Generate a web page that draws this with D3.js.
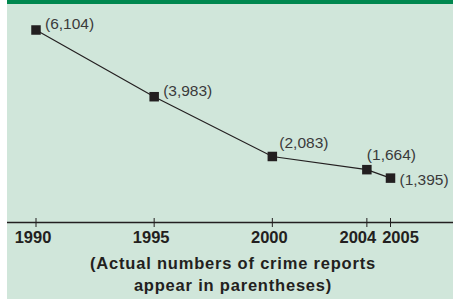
<!DOCTYPE html>
<html>
<head>
<meta charset="utf-8">
<script src="https://cdn.jsdelivr.net/npm/d3@7"></script>
<style>
  html, body { margin: 0; padding: 0; background: #fff; }
  svg { display: block; }
</style>
</head>
<body>
<svg id="chart" width="453" height="299"></svg>
<script>
// Daten ---------------------------------------------------------------
const years = [1990, 1995, 2000, 2004, 2005];
const reports = [6104, 3983, 2083, 1664, 1395];
const labels = ["(6,104)", "(3,983)", "(2,083)", "(1,664)", "(1,395)"];
// Position des Labels relativ zum Punkt: rechts oder oben
const labelPos = ["right", "right", "above", "above", "right"];
const noteLines = ["(Actual numbers of crime reports", "appear in parentheses)"];

const svg = d3.select("#chart");
const W = 453, H = 299;
const font = "Liberation Sans, Arial, Helvetica, sans-serif";

// Hintergrund
svg.append("rect").attr("x", 7).attr("y", 0).attr("width", W - 7).attr("height", H)
  .attr("fill", "#d0e6da");
svg.append("rect").attr("x", 7).attr("y", 0).attr("width", W - 7).attr("height", 4)
  .attr("fill", "#00884f");

// Skalen
const x = d3.scaleLinear().domain([1990, 2005]).range([36, 390.5]);
const y = d3.scaleLinear().domain([0, 6104]).range([222, 30]);

// Achse
const axisY = 222.5;
svg.append("line")
  .attr("x1", 7).attr("x2", W).attr("y1", axisY).attr("y2", axisY)
  .attr("stroke", "#231f20").attr("stroke-width", 1.5);

// kleine Verschiebung der Jahreszahlen (2004/2005 auseinander)
const tickShift = { 2004: -9, 2005: 10 };
const ticks = svg.append("g");
ticks.selectAll("line").data(years).join("line")
  .attr("x1", d => x(d)).attr("x2", d => x(d))
  .attr("y1", axisY - 4.5).attr("y2", axisY + 4.5)
  .attr("stroke", "#231f20").attr("stroke-width", 1);
ticks.selectAll("text").data(years).join("text")
  .attr("x", d => x(d) + (tickShift[d] !== undefined ? tickShift[d] : -3))
  .attr("y", axisY + 20)
  .attr("text-anchor", "middle")
  .attr("font-family", font)
  .attr("font-weight", "bold").attr("font-size", 16.5)
  .attr("fill", "#231f20")
  .text(d => d);

// Linie
const pts = years.map((yr, i) => ({ yr, v: reports[i], label: labels[i], pos: labelPos[i] }));
svg.append("path")
  .datum(pts)
  .attr("d", d3.line().x(d => x(d.yr)).y(d => y(d.v)))
  .attr("fill", "none").attr("stroke", "#231f20").attr("stroke-width", 1.2);

// Marker
const s = 9.5;
svg.selectAll("rect.pt").data(pts).join("rect")
  .attr("class", "pt")
  .attr("x", d => x(d.yr) - s / 2).attr("y", d => y(d.v) - s / 2)
  .attr("width", s).attr("height", s)
  .attr("fill", "#231f20");

// Wertelabels
svg.selectAll("text.lbl").data(pts).join("text")
  .attr("class", "lbl")
  .attr("x", d => d.pos === "right" ? x(d.yr) + 9 : x(d.yr) + (d.yr === 2000 ? 7 : 0))
  .attr("y", d => d.pos === "right" ? y(d.v) + (d.yr === 2005 ? 7 : -1) : y(d.v) - (d.yr === 2000 ? 8 : 10))
  .attr("font-family", font)
  .attr("font-size", 15.5)
  .attr("fill", "#3a3a3a")
  .text(d => d.label);

// Fußnote
svg.selectAll("text.note").data(noteLines).join("text")
  .attr("class", "note")
  .attr("x", 233).attr("y", (d, i) => 269 + i * 21.5)
  .attr("text-anchor", "middle")
  .attr("font-family", font)
  .attr("font-weight", "bold").attr("font-size", 16.5)
  .attr("letter-spacing", 0.8)
  .attr("fill", "#231f20")
  .text(d => d);
</script>
</body>
</html>
